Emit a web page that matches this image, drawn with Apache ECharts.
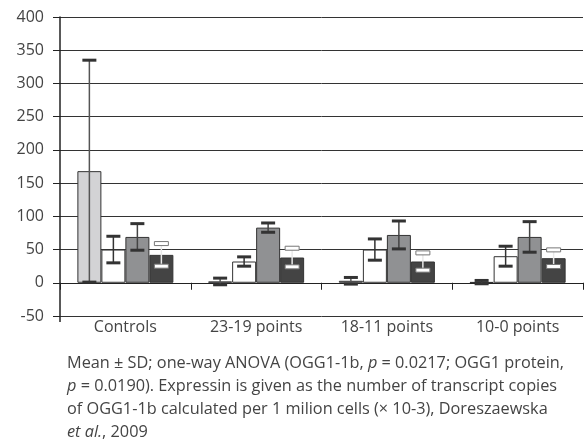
<!DOCTYPE html>
<html><head><meta charset="utf-8">
<script src="https://cdn.jsdelivr.net/npm/echarts@6/dist/echarts.min.js"></script>
<style>html,body{margin:0;padding:0;background:#fff}#c{width:584px;height:443px}</style>
</head><body><div id="c"></div>
<script>
const categories = ['Controls', '23-19 points', '18-11 points', '10-0 points'];
const s1Mean = [168, 2, 3, 1];
const s1Sd = [167, 5, 5, 2.5];
const s2Mean = [50, 32, 50, 40];
const s2Sd = [20, 7, 16, 15];
const s3Mean = [69, 83, 72, 69];
const s3Sd = [20, 7, 21, 23];
const s4Mean = [42, 38, 32, 37];
const s4Sd = [17, 14, 13, 12.5];
const yMin = -50, yMax = 400, yStep = 50;

const FONT = 'Open Sans';
const BAR_W = 24;
const seriesDefs = [
  {mean: s1Mean, sd: s1Sd, fill: '#d3d3d5', line: '#555', cap: '#333', capFill: null},
  {mean: s2Mean, sd: s2Sd, fill: '#ffffff', line: '#333', cap: '#333', capFill: null},
  {mean: s3Mean, sd: s3Sd, fill: '#909193', line: '#444', cap: '#333', capFill: null},
  {mean: s4Mean, sd: s4Sd, fill: '#444444', line: '#e8e8e8', cap: '#777', capFill: '#ffffff'}
];

const series = [];
seriesDefs.forEach((d, i) => {
  series.push({
    type: 'bar', xAxisIndex: 0, barWidth: BAR_W, barGap: '0%',
    data: d.mean,
    itemStyle: {color: d.fill, borderColor: '#333', borderWidth: 1},
    z: 2, silent: true
  });
});
seriesDefs.forEach((d, i) => {
  const off = (i - 1.5) * BAR_W;
  series.push({
    type: 'custom', xAxisIndex: 0, z: 5, silent: true,
    data: d.mean.map((m, k) => [k, m - d.sd[k], m + d.sd[k]]),
    renderItem: function (params, api) {
      const k = api.value(0);
      const lo = api.coord([k, api.value(1)]);
      const hi = api.coord([k, api.value(2)]);
      const x = lo[0] + off;
      const hw = 7;
      const children = [];
      children.push({type: 'line', shape: {x1: x, y1: hi[1], x2: x, y2: lo[1]}, style: {stroke: d.line, lineWidth: 1.5}});
      if (d.capFill) {
        [hi[1], lo[1]].forEach(y => children.push({type: 'rect', shape: {x: x - hw, y: y - 2, width: hw * 2, height: 4}, style: {fill: d.capFill, stroke: d.cap, lineWidth: 1}}));
      } else {
        [hi[1], lo[1]].forEach(y => children.push({type: 'line', shape: {x1: x - hw, y1: y, x2: x + hw, y2: y}, style: {stroke: d.cap, lineWidth: 3}}));
      }
      return {type: 'group', children: children};
    }
  });
});

const chart = echarts.init(document.getElementById('c'), null, {renderer: 'canvas'});
chart.setOption({
  animation: false,
  backgroundColor: '#fff',
  textStyle: {fontFamily: FONT},
  grid: {left: 60, right: 1, top: 17, bottom: 127, containLabel: false},
  xAxis: [
    {type: 'category', data: categories, position: 'bottom',
     axisLine: {show: false, onZero: false}, axisTick: {show: false},
     axisLabel: {color: '#444', fontSize: 16, fontFamily: FONT, margin: 3}},
    {type: 'category', data: categories, position: 'bottom',
     axisLine: {show: true, onZero: true, lineStyle: {color: '#222', width: 1}},
     axisTick: {show: true, length: 7, inside: false, lineStyle: {color: '#222'}},
     axisLabel: {show: false}}
  ],
  yAxis: {
    type: 'value', min: yMin, max: yMax, interval: yStep,
    axisLine: {show: true, onZero: false, lineStyle: {color: '#222', width: 1.5}},
    axisTick: {show: true, length: 7, lineStyle: {color: '#222'}},
    axisLabel: {color: '#444', fontSize: 16, fontFamily: FONT, margin: 16},
    splitLine: {show: true, lineStyle: {color: '#333', width: 1}}
  },
  graphic: [{type: 'line', silent: true, shape: {x1: 60, y1: 316, x2: 60, y2: 322}, style: {stroke: '#222', lineWidth: 1.5}}],
  title: {
    left: 67, top: 352, padding: 0,
    text: '{n|Mean ± SD; one-way ANOVA (OGG1-1b, }{i|p}{n| = 0.0217; OGG1 protein,}\n' +
          '{i|p}{n| = 0.0190). Expressin is given as the number of transcript copies}\n' +
          '{n|of OGG1-1b calculated per 1 milion cells (× 10-3), Doreszaewska}\n' +
          '{i|et al.}{n|, 2009}',
    textStyle: {
      fontFamily: FONT, fontSize: 16.3, fontWeight: 'normal', color: '#444', lineHeight: 23,
      rich: {
        n: {fontFamily: FONT, fontSize: 16.3, color: '#444', lineHeight: 23},
        i: {fontFamily: FONT, fontSize: 16.3, color: '#444', fontStyle: 'italic', lineHeight: 23}
      }
    }
  },
  series: series
});
</script></body></html>
